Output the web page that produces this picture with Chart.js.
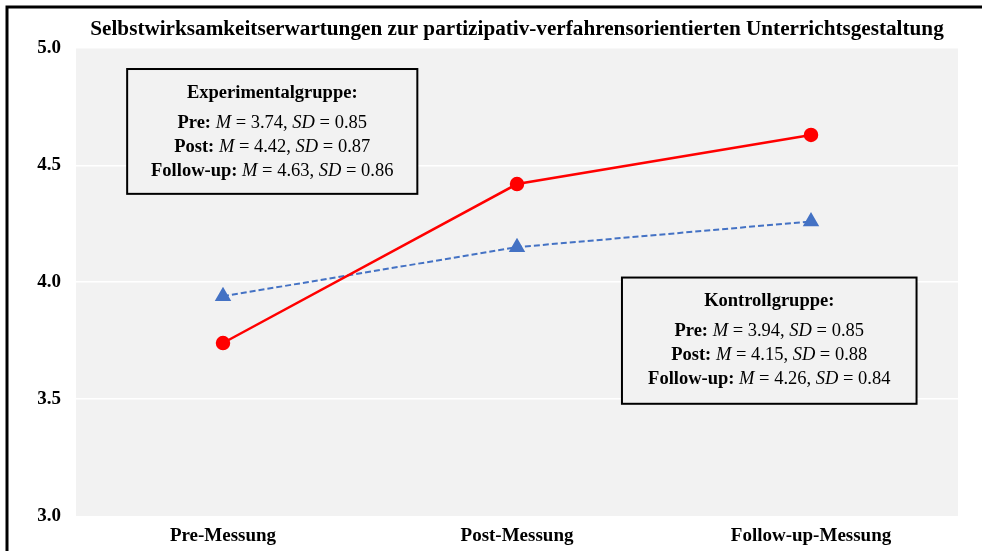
<!DOCTYPE html>
<html>
<head>
<meta charset="utf-8">
<script src="https://cdn.jsdelivr.net/npm/chart.js@4.4.1/dist/chart.umd.min.js"></script>
<style>
  html, body { margin: 0; padding: 0; background: #fff; }
  #wrap { width: 982px; height: 551px; position: relative; }
</style>
</head>
<body>
<div id="wrap"><canvas id="chart"></canvas></div>
<script>
const categories = ['Pre-Messung', 'Post-Messung', 'Follow-up-Messung'];
const phaseNames = ['Pre', 'Post', 'Follow-up'];
const expMeans = [3.74, 4.42, 4.63];
const expSD = [0.85, 0.87, 0.86];
const ctrlMeans = [3.94, 4.15, 4.26];
const ctrlSD = [0.85, 0.88, 0.84];
const yTicks = [3.0, 3.5, 4.0, 4.5, 5.0];

const serif = '"Liberation Serif", "Times New Roman", serif';

// gray plot background + outer frame lines
const backdrop = {
  id: 'backdrop',
  beforeDraw(chart) {
    const {ctx, chartArea: a} = chart;
    ctx.save();
    ctx.fillStyle = '#f2f2f2';
    ctx.fillRect(a.left, a.top, a.right - a.left, a.bottom - a.top);
    ctx.strokeStyle = '#000';
    ctx.lineWidth = 3;
    ctx.beginPath();
    ctx.moveTo(7, chart.height);
    ctx.lineTo(7, 7);
    ctx.lineTo(chart.width, 7);
    ctx.stroke();
    ctx.restore();
  }
};

function drawRuns(ctx, runs, cx, y) {
  let total = 0;
  runs.forEach(r => { ctx.font = r.font; r.w = ctx.measureText(r.text).width; total += r.w; });
  let x = cx - total / 2;
  runs.forEach(r => { ctx.font = r.font; ctx.fillText(r.text, x, y); x += r.w; });
}

const boxFont = 18.5;

function statLines(means, sds) {
  return phaseNames.map((p, i) => [
    {text: p + ': ', font: `bold ${boxFont}px ${serif}`},
    {text: 'M', font: `italic ${boxFont}px ${serif}`},
    {text: ' = ' + means[i].toFixed(2) + ', ', font: `${boxFont}px ${serif}`},
    {text: 'SD', font: `italic ${boxFont}px ${serif}`},
    {text: ' = ' + sds[i].toFixed(2), font: `${boxFont}px ${serif}`}
  ]);
}

// the two M/SD text boxes, placed as fractions of the plot area
const statBoxes = {
  id: 'statBoxes',
  afterDatasetsDraw(chart) {
    const {ctx, chartArea: a} = chart;
    const W = a.right - a.left, H = a.bottom - a.top;
    const boxes = [
      {title: 'Experimentalgruppe:', lines: statLines(expMeans, expSD), fx: 0.058, fy: 0.044, fw: 0.329, fh: 0.267},
      {title: 'Kontrollgruppe:', lines: statLines(ctrlMeans, ctrlSD), fx: 0.619, fy: 0.49, fw: 0.334, fh: 0.27}
    ];
    ctx.save();
    boxes.forEach(b => {
      const x = a.left + b.fx * W, y = a.top + b.fy * H, w = b.fw * W, h = b.fh * H;
      ctx.fillStyle = '#f2f2f2';
      ctx.fillRect(x, y, w, h);
      ctx.strokeStyle = '#000';
      ctx.lineWidth = 2;
      ctx.strokeRect(x, y, w, h);
      ctx.fillStyle = '#000';
      ctx.textBaseline = 'middle';
      ctx.textAlign = 'left';
      const cx = x + w / 2;
      drawRuns(ctx, [{text: b.title, font: `bold ${boxFont}px ${serif}`}], cx, y + 24);
      b.lines.forEach((ln, i) => drawRuns(ctx, ln, cx, y + 54 + i * 24));
    });
    ctx.restore();
  }
};

new Chart(document.getElementById('chart'), {
  type: 'line',
  data: {
    labels: categories,
    datasets: [
      {
        label: 'Experimentalgruppe',
        data: expMeans,
        borderColor: '#ff0000',
        backgroundColor: '#ff0000',
        borderWidth: 2.5,
        pointStyle: 'circle',
        pointRadius: 6,
        pointHoverRadius: 6,
        tension: 0
      },
      {
        label: 'Kontrollgruppe',
        data: ctrlMeans,
        borderColor: '#4472c4',
        backgroundColor: '#4472c4',
        borderWidth: 2,
        borderDash: [6, 3],
        pointStyle: 'triangle',
        pointRadius: 7.5,
        pointHoverRadius: 7.5,
        tension: 0
      }
    ]
  },
  options: {
    responsive: true,
    maintainAspectRatio: false,
    animation: false,
    layout: { padding: { left: 0, right: 24, top: 0, bottom: 0 } },
    plugins: {
      legend: { display: false },
      tooltip: { enabled: false },
      title: {
        display: true,
        fullSize: false,
        text: 'Selbstwirksamkeitserwartungen zur partizipativ-verfahrensorientierten Unterrichtsgestaltung',
        color: '#000',
        font: { family: serif, size: 21.2, weight: 'bold' },
        padding: { top: 17, bottom: 6 }
      }
    },
    scales: {
      x: {
        offset: true,
        grid: { display: false },
        border: { display: false },
        ticks: { color: '#000', font: { family: serif, size: 19, weight: 'bold' }, padding: 1 },
        afterFit(s) { s.height = 35; }
      },
      y: {
        min: 3.0,
        max: 5.0,
        afterBuildTicks(s) { s.ticks = yTicks.map(v => ({value: v})); },
        grid: { color: ctx => (ctx.tick.value === 3 || ctx.tick.value === 5) ? 'rgba(0,0,0,0)' : '#ffffff', lineWidth: 1.5, drawTicks: false },
        border: { display: false },
        ticks: {
          color: '#000',
          font: { family: serif, size: 19, weight: 'bold' },
          padding: 15,
          callback: v => Number(v).toFixed(1)
        },
        afterFit(s) { s.width = 76; }
      }
    }
  },
  plugins: [backdrop, statBoxes]
});
</script>
</body>
</html>
